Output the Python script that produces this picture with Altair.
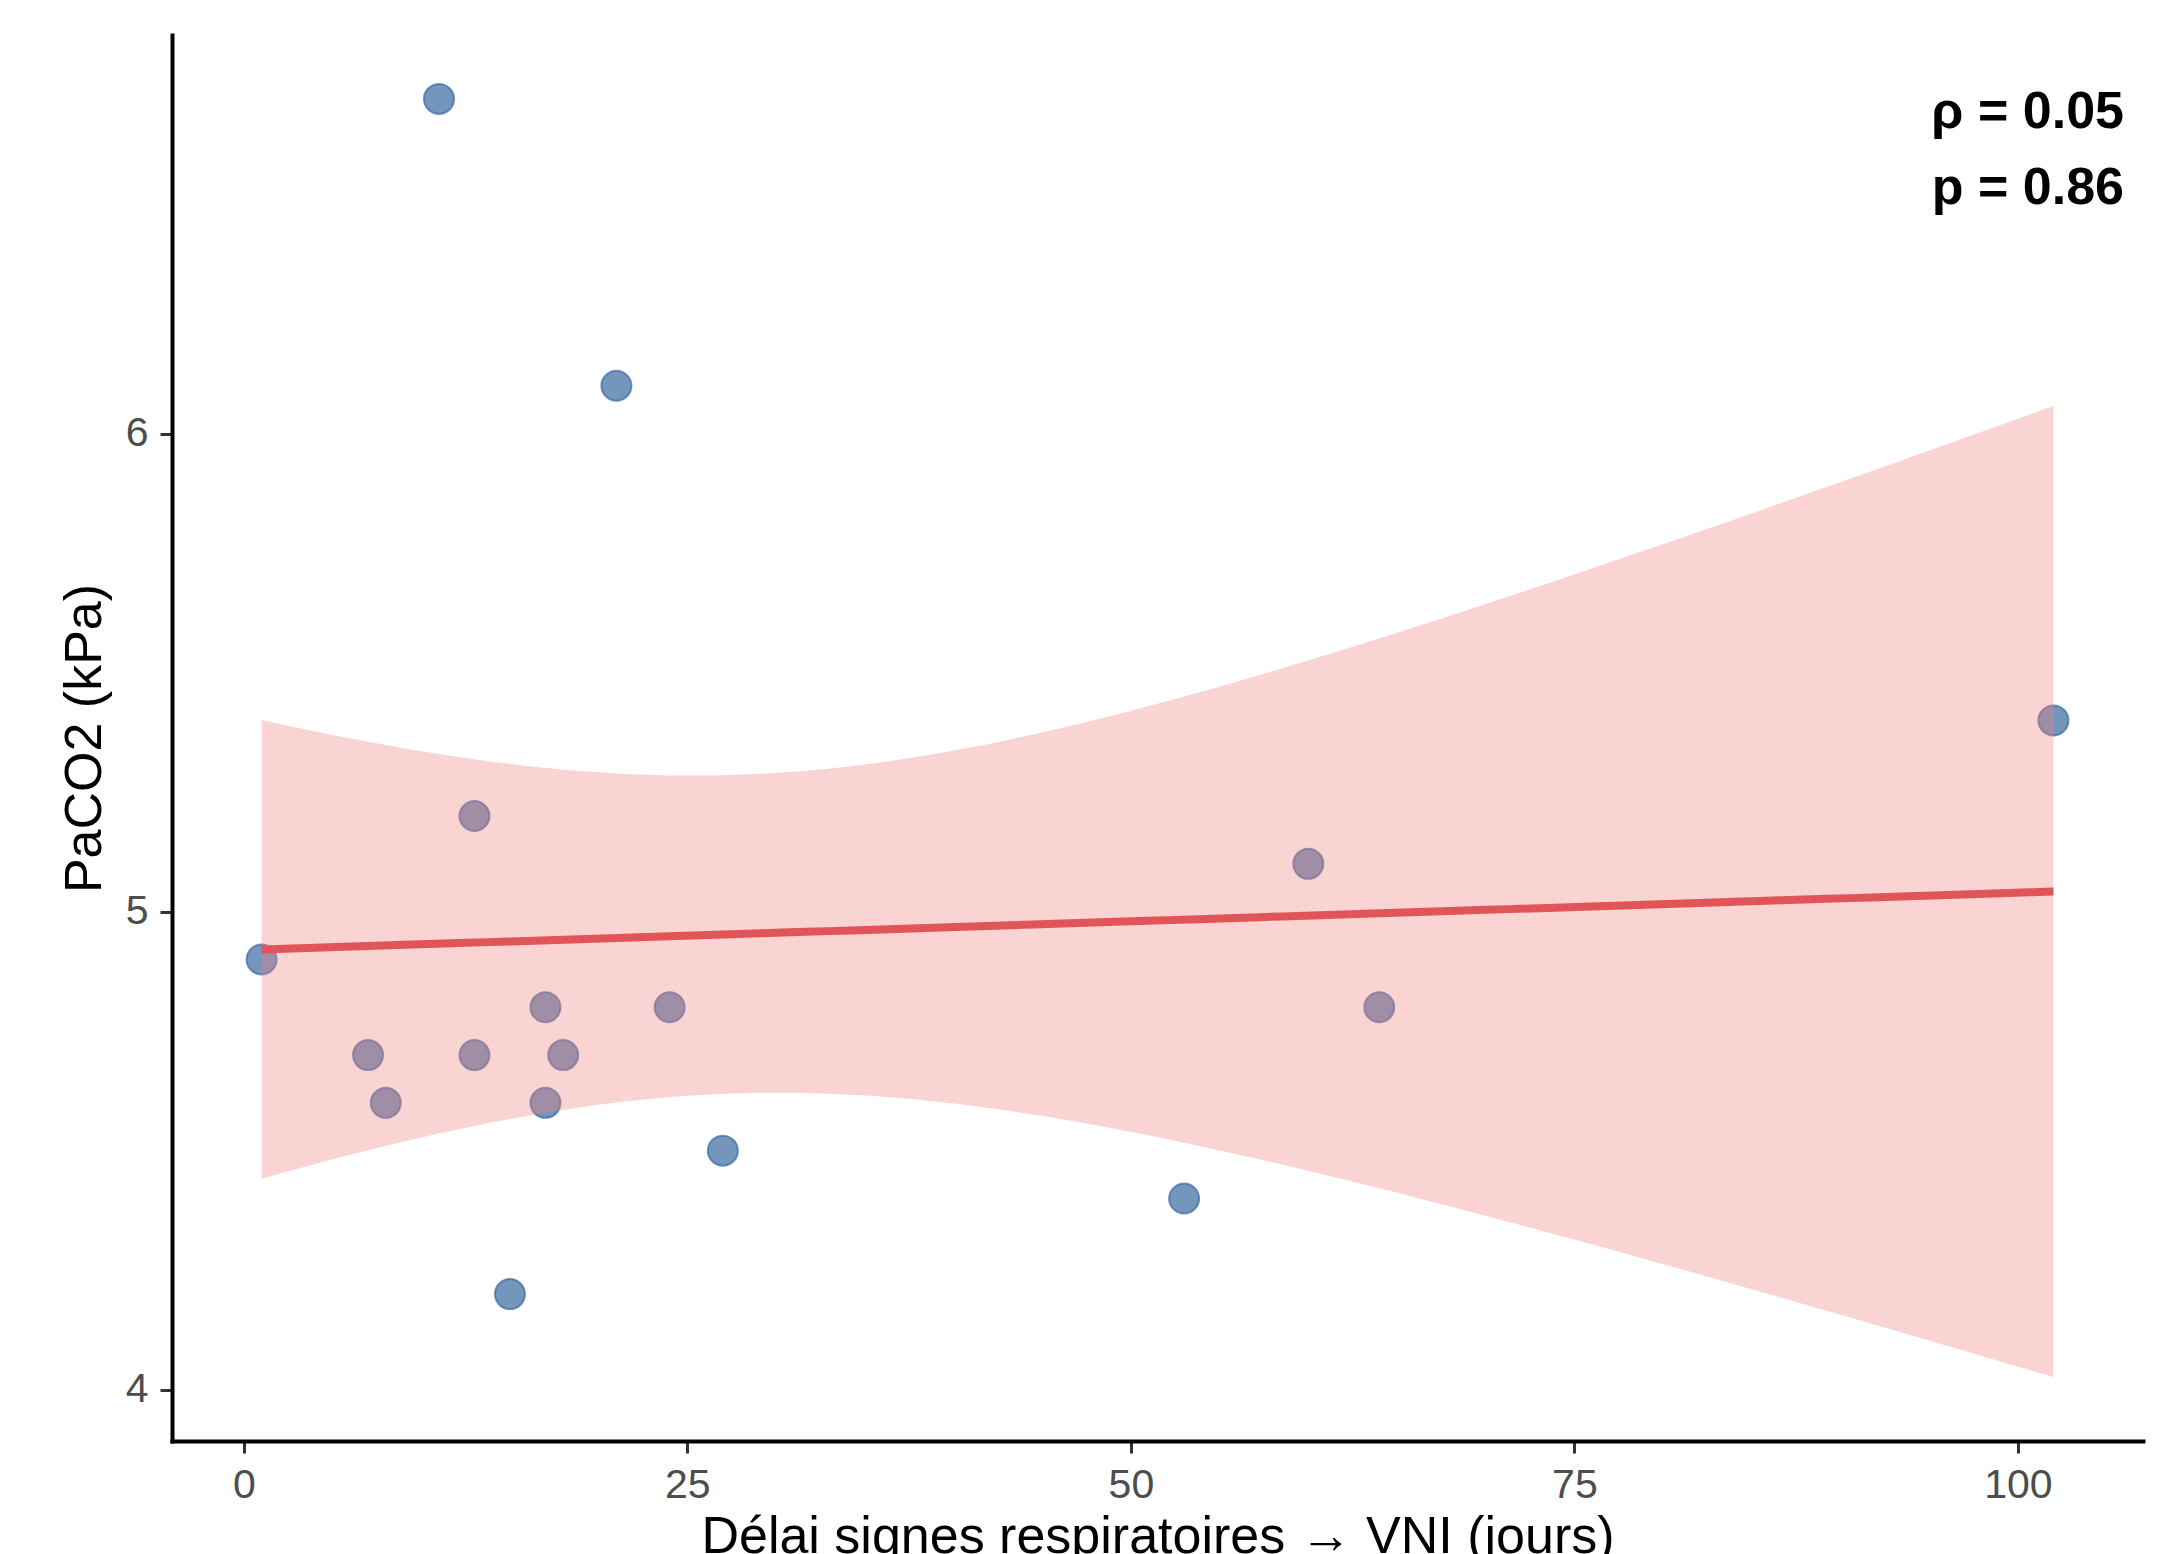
import altair as alt
import numpy as np
import pandas as pd

# ---- data ----
delai = [11, 21, 1, 13, 7, 8, 13, 17, 18, 17, 24, 27, 15, 53, 60, 64, 102]
paco2 = [6.7, 6.1, 4.9, 5.2, 4.7, 4.6, 4.7, 4.8, 4.7, 4.6, 4.8, 4.5, 4.2, 4.4, 5.1, 4.8, 5.4]
x_ticks = [0, 25, 50, 75, 100]
y_ticks = [4, 5, 6]
annot = ["ρ = 0.05", "p = 0.86"]
x_title = "Délai signes respiratoires → VNI (jours)"
y_title = "PaCO2 (kPa)"

# ---- linear fit with 95% confidence band (as geom_smooth(method="lm")) ----
x = np.array(delai, float)
y = np.array(paco2, float)
n = len(x)
xm, ym = x.mean(), y.mean()
sxx = ((x - xm) ** 2).sum()
b = ((x - xm) * (y - ym)).sum() / sxx
a = ym - b * xm
res = y - (a + b * x)
s = np.sqrt((res ** 2).sum() / (n - 2))
t975 = 2.131449546  # t quantile, df = 15
grid = np.linspace(x.min(), x.max(), 80)
fit = a + b * grid
se = s * np.sqrt(1.0 / n + (grid - xm) ** 2 / sxx)
lo, hi = fit - t975 * se, fit + t975 * se

pts = pd.DataFrame({"delai": delai, "paco2": paco2})
band = pd.DataFrame({"delai": grid, "fit": fit, "lo": lo, "hi": hi})

# ggplot-like 5% expansion
xr = x.max() - x.min()
x_dom = [x.min() - 0.05 * xr, x.max() + 0.05 * xr]
ymin = min(y.min(), lo.min())
ymax = max(y.max(), hi.max())
yr = ymax - ymin
y_dom = [ymin - 0.05 * yr, ymax + 0.05 * yr]

W, H = 1971, 1406
FONT = "Liberation Sans"

xs = alt.Scale(domain=x_dom, nice=False, zero=False)
ys = alt.Scale(domain=y_dom, nice=False, zero=False)

x_axis = alt.Axis(values=x_ticks, format="d", title=x_title, titlePadding=6, domainCap="square")
y_axis = alt.Axis(values=y_ticks, format="d", title=y_title, titlePadding=14, domainCap="square")

base = alt.Chart(pts)

points = base.mark_circle(
    size=900, fill="#3A6A9F", stroke="#3A6A9F", strokeWidth=2,
    fillOpacity=0.7, strokeOpacity=0.7, opacity=1
).encode(
    x=alt.X("delai:Q", scale=xs, axis=x_axis),
    y=alt.Y("paco2:Q", scale=ys, axis=y_axis),
)

ribbon = alt.Chart(band).mark_area(color="#F08080", opacity=0.35).encode(
    x=alt.X("delai:Q", scale=xs),
    y=alt.Y("lo:Q", scale=ys),
    y2="hi:Q",
)

line = alt.Chart(band).mark_line(color="#E05558", strokeWidth=8).encode(
    x=alt.X("delai:Q", scale=xs),
    y=alt.Y("fit:Q", scale=ys),
)

t1 = alt.Chart(pd.DataFrame({"t": [annot[0]]})).mark_text(
    align="right", baseline="alphabetic", font=FONT, fontSize=52,
    fontWeight="bold", color="black"
).encode(text="t:N", x=alt.value(1952), y=alt.value(93))

t2 = alt.Chart(pd.DataFrame({"t": [annot[1]]})).mark_text(
    align="right", baseline="alphabetic", font=FONT, fontSize=52,
    fontWeight="bold", color="black"
).encode(text="t:N", x=alt.value(1952), y=alt.value(169))

chart = alt.layer(points, ribbon, line, t1, t2).properties(
    width=W, height=H,
    autosize=alt.AutoSizeParams(type="none"),
    padding={"left": 164, "top": 27, "right": 27, "bottom": 120},
).configure_view(stroke=None).configure_axis(
    grid=False,
    domainColor="black", domainWidth=4,
    tickColor="#333333", tickWidth=3, tickSize=12,
    labelFont=FONT, labelFontSize=41, labelColor="#4D4D4D", labelPadding=12,
    titleFont=FONT, titleFontSize=52, titleFontWeight="normal", titleColor="black",
)

chart.save("out.html", embed_options={"renderer": "svg", "actions": False})
